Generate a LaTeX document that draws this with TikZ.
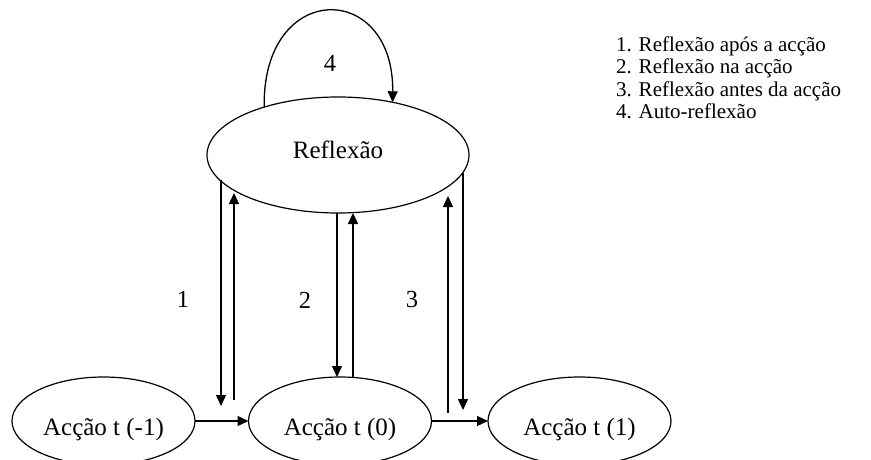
\documentclass[tikz,border=0pt]{standalone}
\usepackage{fontspec}
\setmainfont{Liberation Serif}
\usetikzlibrary{arrows.meta,shapes.geometric}
\begin{document}
\begin{tikzpicture}[x=1pt,y=-1pt,
  every node/.style={inner sep=0pt,outer sep=0pt},
  oval/.style={draw,ellipse,line width=1.2pt,font=\fontsize{25}{28}\selectfont},
  act/.style={oval,minimum width=183pt,minimum height=88pt,text height=28pt,text depth=0pt},
  arr/.style={-{Triangle[length=11pt,width=10pt]},line width=1.3pt},
  num/.style={font=\fontsize{24.5}{28}\selectfont},
  leg/.style={anchor=base west,font=\fontsize{21}{22}\selectfont}]
\useasboundingbox (0,0) rectangle (871,460);
\clip (0,0) rectangle (871,460);
% nodes
\node[oval,minimum width=262pt,minimum height=116pt,text height=6pt,text depth=0pt] (R) at (338,155) {Reflexão};
\node[act] (A) at (103.5,421) {Acção t (-1)};
\node[act] (B) at (340,421) {Acção t (0)};
\node[act] (C) at (579.5,421) {Acção t (1)};
% self loop
\draw[arr] (R.147.4) .. controls (262,-20) and (394,-20) .. (R.44.5);
\node[num] (n4) at (330,63) {4};
% pair 1
\coordinate (d1) at (221,406);
\coordinate (u1s) at (234,400);
\coordinate (u1e) at (234,193);
\draw[arr] (d1 |- R.192.5) -- (d1);
\draw[arr] (u1s) -- (u1e);
% pair 2
\draw[arr] ([xshift=-3pt]B.north |- R.south) -- ([xshift=-3pt]B.north);
\draw[arr] ([xshift=13pt]B.north) -- ([xshift=13pt]B.north |- R.south);
% pair 3
\coordinate (d3) at (463,410);
\coordinate (u3s) at (448,413);
\coordinate (u3e) at (448,196);
\draw[arr] (d3 |- R.352) -- (d3);
\draw[arr] (u3s) -- (u3e);
% horizontal
\draw[arr] (A.east) -- (B.west);
\draw[arr] (B.east) -- (C.west);
% labels
\node[num] (n1) at (183,299) {1};
\node[num] (n2) at (305,300) {2};
\node[num] (n3) at (412,300) {3};
% legend
\node[leg] (l1) at (616,52) {1. Reflexão após a acção};
\node[leg] (l2) at (616,74) {2. Reflexão na acção};
\node[leg] (l3) at (616,96) {3. Reflexão antes da acção};
\node[leg] (l4) at (616,118) {4. Auto-reflexão};
\end{tikzpicture}
\end{document}
